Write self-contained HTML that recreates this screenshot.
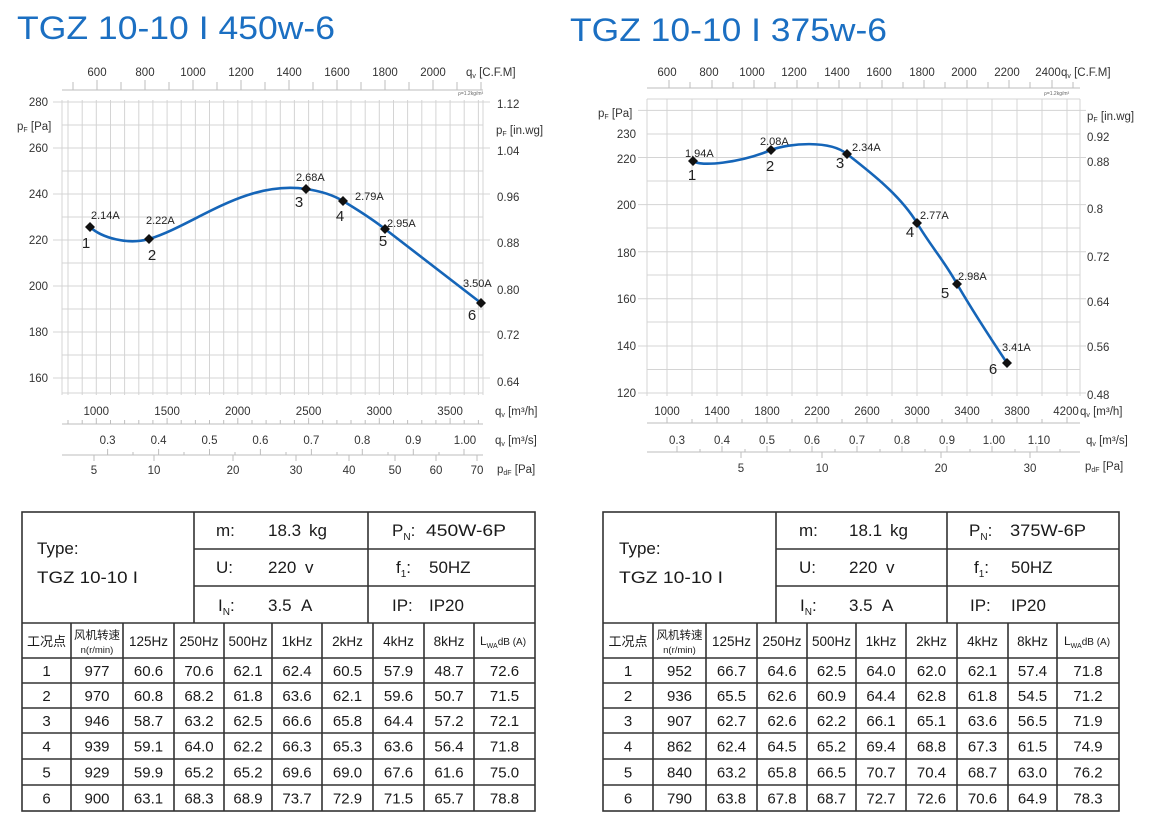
<!DOCTYPE html>
<html><head><meta charset="utf-8">
<style>
html,body{margin:0;padding:0;background:#fff;}
svg{display:block;}
text{font-family:"Liberation Sans","Noto Sans CJK SC",sans-serif;}
</style></head><body>
<svg width="1159" height="827" viewBox="0 0 1159 827" xmlns="http://www.w3.org/2000/svg">
<rect width="1159" height="827" fill="#fff"/>

<!-- ===================== LEFT CHART ===================== -->
<text x="17" y="39" font-size="32" fill="#1b6fc2" textLength="318" lengthAdjust="spacingAndGlyphs">TGZ 10-10 I 450w-6</text>

<!-- grid -->
<g stroke="#d4d4d4" stroke-width="1" fill="none">
<path d="M62 100V395M68 100V395M82.2 100V395M96.3 100V395M110.5 100V395M124.6 100V395M138.8 100V395M152.9 100V395M167.1 100V395M181.2 100V395M195.4 100V395M209.5 100V395M223.7 100V395M237.8 100V395M252 100V395M266.1 100V395M280.3 100V395M294.4 100V395M308.6 100V395M322.7 100V395M336.9 100V395M351 100V395M365.2 100V395M379.3 100V395M393.5 100V395M407.6 100V395M421.8 100V395M435.9 100V395M450.1 100V395M464.2 100V395M478.4 100V395M483 100V395"/>
<path d="M53 102H490M62 125H483M53 148H490M62 171H483M53 194H490M62 217H483M53 240H490M62 263H483M53 286H490M62 309H483M53 332H490M62 355H483M53 378H490M62 393H483"/>
</g>
<!-- top CFM axis -->
<g stroke="#bdbdbd" stroke-width="1" fill="none">
<path d="M62 90H483M73 82V90M97 80V90M121 82V90M145 80V90M169 82V90M193 80V90M217 82V90M241 80V90M265 82V90M289 80V90M313 82V90M337 80V90M361 82V90M385 80V90M409 82V90M433 80V90M457 82V90M481 82V90"/>
<path d="M62 424H483M62 455H483"/>
<path d="M68 420V424M82.2 420V424M96.3 418V424M110.5 420V424M124.6 420V424M138.8 420V424M152.9 420V424M167.1 418V424M181.2 420V424M195.4 420V424M209.5 420V424M223.7 420V424M237.8 418V424M252 420V424M266.1 420V424M280.3 420V424M294.4 420V424M308.6 418V424M322.7 420V424M336.9 420V424M351 420V424M365.2 420V424M379.3 418V424M393.5 420V424M407.6 420V424M421.8 420V424M435.9 420V424M450.1 418V424M464.2 420V424M478.4 420V424"/>
<path d="M107.6 449V455M133 452V455M158.6 449V455M184 452V455M209.5 449V455M235 452V455M260.4 449V455M286 452V455M311.4 449V455M337 452V455M362.3 449V455M388 452V455M413.3 449V455M439 452V455M464 449V455"/>
<path d="M94 455V461M154 455V461M233 455V461M296 455V461M349 455V461M395 455V461M436 455V461M477 455V461"/>
</g>
<g font-size="11.5" fill="#333" text-anchor="middle">
<text x="97" y="76">600</text><text x="145" y="76">800</text><text x="193" y="76">1000</text><text x="241" y="76">1200</text><text x="289" y="76">1400</text><text x="337" y="76">1600</text><text x="385" y="76">1800</text><text x="433" y="76">2000</text>
<text x="96.3" y="415">1000</text><text x="167.1" y="415">1500</text><text x="237.8" y="415">2000</text><text x="308.6" y="415">2500</text><text x="379.3" y="415">3000</text><text x="450.1" y="415">3500</text>
<text x="107.6" y="444">0.3</text><text x="158.6" y="444">0.4</text><text x="209.5" y="444">0.5</text><text x="260.4" y="444">0.6</text><text x="311.4" y="444">0.7</text><text x="362.3" y="444">0.8</text><text x="413.3" y="444">0.9</text><text x="465" y="444">1.00</text>
<text x="94" y="474">5</text><text x="154" y="474">10</text><text x="233" y="474">20</text><text x="296" y="474">30</text><text x="349" y="474">40</text><text x="395" y="474">50</text><text x="436" y="474">60</text><text x="477" y="474">70</text>
</g>
<g font-size="11.5" fill="#333" text-anchor="end">
<text x="48" y="106">280</text><text x="48" y="152">260</text><text x="48" y="198">240</text><text x="48" y="244">220</text><text x="48" y="290">200</text><text x="48" y="336">180</text><text x="48" y="382">160</text>
</g>
<g font-size="11.5" fill="#333">
<text x="497" y="108">1.12</text><text x="497" y="155">1.04</text><text x="497" y="201">0.96</text><text x="497" y="247">0.88</text><text x="497" y="294">0.80</text><text x="497" y="339">0.72</text><text x="497" y="386">0.64</text>
<text x="17" y="130">p<tspan font-size="7" dy="2">F</tspan><tspan dy="-2"> [Pa]</tspan></text>
<text x="496" y="134">p<tspan font-size="7" dy="2">F</tspan><tspan dy="-2"> [in.wg]</tspan></text>
<text x="466" y="76">q<tspan font-size="7" dy="2">v</tspan><tspan dy="-2"> [C.F.M]</tspan></text>
<text x="495" y="415">q<tspan font-size="7" dy="2">v</tspan><tspan dy="-2"> [m³/h]</tspan></text>
<text x="495" y="444">q<tspan font-size="7" dy="2">v</tspan><tspan dy="-2"> [m³/s]</tspan></text>
<text x="497" y="473">p<tspan font-size="7" dy="2">dF</tspan><tspan dy="-2"> [Pa]</tspan></text>
</g>
<text x="458" y="95" font-size="5" fill="#666">ρ=1.2kg/m³</text>

<!-- curve -->
<path d="M90,227 C102,238 128,245 149,239 C195,225 245,180 306,189 C320,191 333,195 343,201 C358,210 372,219 385,229 C420,256 455,283 481,303" fill="none" stroke="#1565b8" stroke-width="2.6"/>
<g fill="#111">
<polygon points="90,222 95,227 90,232 85,227"/>
<polygon points="149,234 154,239 149,244 144,239"/>
<polygon points="306,184 311,189 306,194 301,189"/>
<polygon points="343,196 348,201 343,206 338,201"/>
<polygon points="385,224 390,229 385,234 380,229"/>
<polygon points="481,298 486,303 481,308 476,303"/>
</g>
<g font-size="11" fill="#222">
<text x="91" y="219">2.14A</text><text x="146" y="224">2.22A</text><text x="296" y="181">2.68A</text><text x="355" y="200">2.79A</text><text x="387" y="227">2.95A</text><text x="463" y="287">3.50A</text>
</g>
<g font-size="15" fill="#222" text-anchor="middle">
<text x="86" y="248">1</text><text x="152" y="260">2</text><text x="299" y="207">3</text><text x="340" y="221">4</text><text x="383" y="246">5</text><text x="472" y="320">6</text>
</g>

<!-- ===================== RIGHT CHART ===================== -->
<text x="570" y="41" font-size="32" fill="#1b6fc2" textLength="317" lengthAdjust="spacingAndGlyphs">TGZ 10-10 I 375w-6</text>

<g stroke="#d4d4d4" stroke-width="1" fill="none">
<path d="M647 99V396M667 99V396M692 99V396M717 99V396M742 99V396M767 99V396M792 99V396M817 99V396M842 99V396M867 99V396M892 99V396M917 99V396M942 99V396M967 99V396M992 99V396M1017 99V396M1042 99V396M1067 99V396M1080 99V396"/>
<path d="M647 99H1080M638 110.4H1086M647 134H1080M638 157.5H1086M647 181H1080M638 204.6H1086M647 228H1080M638 251.7H1086M647 275H1080M638 298.8H1086M647 322H1080M638 346H1086M647 369.5H1080M638 393H1086"/>
</g>
<g stroke="#bdbdbd" stroke-width="1" fill="none">
<path d="M647 88H1080M669 80V88M690 82V88M712 80V88M733 82V88M754 80V88M775 82V88M797 80V88M818 82V88M839 80V88M860 82V88M882 80V88M903 82V88M924 80V88M945 82V88M967 80V88M988 82V88M1009 80V88M1030 82V88M1052 80V88M1073 82V88"/>
<path d="M647 423H1080M647 452H1080"/>
<path d="M667 417V423M692 419V423M717 417V423M742 419V423M767 417V423M792 419V423M817 417V423M842 419V423M867 417V423M892 419V423M917 417V423M942 419V423M967 417V423M992 419V423M1017 417V423M1042 419V423M1067 417V423"/>
<path d="M677 446V452M700 449V452M722 446V452M745 449V452M767 446V452M790 449V452M812 446V452M835 449V452M857 446V452M880 449V452M902 446V452M925 449V452M947 446V452M970 449V452M992 446V452M1015 449V452M1037 446V452M1060 449V452"/>
<path d="M741 452V458M822 452V458M941 452V458M1030 452V458"/>
</g>
<g font-size="11.5" fill="#333" text-anchor="middle">
<text x="667" y="76">600</text><text x="709" y="76">800</text><text x="752" y="76">1000</text><text x="794" y="76">1200</text><text x="837" y="76">1400</text><text x="879" y="76">1600</text><text x="922" y="76">1800</text><text x="964" y="76">2000</text><text x="1007" y="76">2200</text><text x="1048" y="76">2400</text>
<text x="667" y="415">1000</text><text x="717" y="415">1400</text><text x="767" y="415">1800</text><text x="817" y="415">2200</text><text x="867" y="415">2600</text><text x="917" y="415">3000</text><text x="967" y="415">3400</text><text x="1017" y="415">3800</text><text x="1066" y="415">4200</text>
<text x="677" y="444">0.3</text><text x="722" y="444">0.4</text><text x="767" y="444">0.5</text><text x="812" y="444">0.6</text><text x="857" y="444">0.7</text><text x="902" y="444">0.8</text><text x="947" y="444">0.9</text><text x="994" y="444">1.00</text><text x="1039" y="444">1.10</text>
<text x="741" y="472">5</text><text x="822" y="472">10</text><text x="941" y="472">20</text><text x="1030" y="472">30</text>
</g>
<g font-size="11.5" fill="#333" text-anchor="end">
<text x="636" y="138">230</text><text x="636" y="163">220</text><text x="636" y="209">200</text><text x="636" y="257">180</text><text x="636" y="303">160</text><text x="636" y="350">140</text><text x="636" y="397">120</text>
</g>
<g font-size="11.5" fill="#333">
<text x="1087" y="141">0.92</text><text x="1087" y="166">0.88</text><text x="1087" y="213">0.8</text><text x="1087" y="261">0.72</text><text x="1087" y="306">0.64</text><text x="1087" y="351">0.56</text><text x="1087" y="399">0.48</text>
<text x="598" y="117">p<tspan font-size="7" dy="2">F</tspan><tspan dy="-2"> [Pa]</tspan></text>
<text x="1087" y="120">p<tspan font-size="7" dy="2">F</tspan><tspan dy="-2"> [in.wg]</tspan></text>
<text x="1061" y="76">q<tspan font-size="7" dy="2">v</tspan><tspan dy="-2"> [C.F.M]</tspan></text>
<text x="1080" y="415">q<tspan font-size="7" dy="2">v</tspan><tspan dy="-2"> [m³/h]</tspan></text>
<text x="1086" y="444">q<tspan font-size="7" dy="2">v</tspan><tspan dy="-2"> [m³/s]</tspan></text>
<text x="1085" y="470">p<tspan font-size="7" dy="2">dF</tspan><tspan dy="-2"> [Pa]</tspan></text>
</g>
<text x="1044" y="95" font-size="5" fill="#666">ρ=1.2kg/m³</text>

<path d="M693,161 C700,167 740,163 771,150 C790,143 830,140 847,154 C870,172 900,195 917,223 C930,245 945,262 957,284 C975,315 995,345 1007,363" fill="none" stroke="#1565b8" stroke-width="2.6"/>
<g fill="#111">
<polygon points="693,156 698,161 693,166 688,161"/>
<polygon points="771,145 776,150 771,155 766,150"/>
<polygon points="847,149 852,154 847,159 842,154"/>
<polygon points="917,218 922,223 917,228 912,223"/>
<polygon points="957,279 962,284 957,289 952,284"/>
<polygon points="1007,358 1012,363 1007,368 1002,363"/>
</g>
<g font-size="11" fill="#222">
<text x="685" y="157">1.94A</text><text x="760" y="145">2.08A</text><text x="852" y="151">2.34A</text><text x="920" y="219">2.77A</text><text x="958" y="280">2.98A</text><text x="1002" y="351">3.41A</text>
</g>
<g font-size="15" fill="#222" text-anchor="middle">
<text x="692" y="180">1</text><text x="770" y="171">2</text><text x="840" y="168">3</text><text x="910" y="237">4</text><text x="945" y="298">5</text><text x="993" y="374">6</text>
</g>

<!-- ===================== LEFT TABLE ===================== -->
<g stroke="#333" stroke-width="1.6" fill="none">
<rect x="22" y="512" width="513" height="299"/>
<path d="M194 512V623M368 512V623M194 549H535M194 586H535M22 623H535M22 658H535M22 683H535M22 708H535M22 733H535M22 759H535M22 785H535M71 623V811M123 623V811M174 623V811M224 623V811M272 623V811M322 623V811M373 623V811M424 623V811M474 623V811"/>
</g>
<g font-size="17" fill="#1a1a1a">
<text x="37" y="554">Type:</text>
<text x="37" y="583" textLength="101" lengthAdjust="spacingAndGlyphs">TGZ 10-10 I</text>
<text x="216" y="536">m:</text><text x="268" y="536">18.3</text><text x="309" y="536">kg</text>
<text x="392" y="536">P<tspan font-size="10" dy="4">N</tspan><tspan dy="-4">:</tspan></text><text x="426" y="536" textLength="80" lengthAdjust="spacingAndGlyphs">450W-6P</text>
<text x="216" y="573">U:</text><text x="268" y="573">220</text><text x="305" y="573">v</text>
<text x="396" y="573">f<tspan font-size="10" dy="4">1</tspan><tspan dy="-4">:</tspan></text><text x="429" y="573">50HZ</text>
<text x="218" y="611">I<tspan font-size="10" dy="4">N</tspan><tspan dy="-4">:</tspan></text><text x="268" y="611">3.5</text><text x="301" y="611">A</text>
<text x="392" y="611">IP:</text><text x="429" y="611">IP20</text>
</g>
<g fill="#1a1a1a" text-anchor="middle">
<text x="46.5" y="646" font-size="13">工况点</text>
<text x="97" y="639" font-size="11.5">风机转速</text>
<text x="97" y="653" font-size="9.5">n(r/min)</text>
<g font-size="13.5"><text x="148.5" y="646">125Hz</text><text x="199" y="646">250Hz</text><text x="248" y="646">500Hz</text><text x="297" y="646">1kHz</text><text x="347.5" y="646">2kHz</text><text x="398.5" y="646">4kHz</text><text x="449" y="646">8kHz</text></g>
<text x="503" y="645" font-size="12">L<tspan font-size="7" dy="3">WA</tspan><tspan dy="-3" font-size="10">dB (A)</tspan></text>
</g>
<g font-size="15" fill="#1a1a1a" text-anchor="middle">
<text x="46.5" y="676">1</text><text x="97" y="676">977</text><text x="148.5" y="676">60.6</text><text x="199" y="676">70.6</text><text x="248" y="676">62.1</text><text x="297" y="676">62.4</text><text x="347.5" y="676">60.5</text><text x="398.5" y="676">57.9</text><text x="449" y="676">48.7</text><text x="504.5" y="676">72.6</text>
<text x="46.5" y="701">2</text><text x="97" y="701">970</text><text x="148.5" y="701">60.8</text><text x="199" y="701">68.2</text><text x="248" y="701">61.8</text><text x="297" y="701">63.6</text><text x="347.5" y="701">62.1</text><text x="398.5" y="701">59.6</text><text x="449" y="701">50.7</text><text x="504.5" y="701">71.5</text>
<text x="46.5" y="726">3</text><text x="97" y="726">946</text><text x="148.5" y="726">58.7</text><text x="199" y="726">63.2</text><text x="248" y="726">62.5</text><text x="297" y="726">66.6</text><text x="347.5" y="726">65.8</text><text x="398.5" y="726">64.4</text><text x="449" y="726">57.2</text><text x="504.5" y="726">72.1</text>
<text x="46.5" y="751.5">4</text><text x="97" y="751.5">939</text><text x="148.5" y="751.5">59.1</text><text x="199" y="751.5">64.0</text><text x="248" y="751.5">62.2</text><text x="297" y="751.5">66.3</text><text x="347.5" y="751.5">65.3</text><text x="398.5" y="751.5">63.6</text><text x="449" y="751.5">56.4</text><text x="504.5" y="751.5">71.8</text>
<text x="46.5" y="777.5">5</text><text x="97" y="777.5">929</text><text x="148.5" y="777.5">59.9</text><text x="199" y="777.5">65.2</text><text x="248" y="777.5">65.2</text><text x="297" y="777.5">69.6</text><text x="347.5" y="777.5">69.0</text><text x="398.5" y="777.5">67.6</text><text x="449" y="777.5">61.6</text><text x="504.5" y="777.5">75.0</text>
<text x="46.5" y="803.5">6</text><text x="97" y="803.5">900</text><text x="148.5" y="803.5">63.1</text><text x="199" y="803.5">68.3</text><text x="248" y="803.5">68.9</text><text x="297" y="803.5">73.7</text><text x="347.5" y="803.5">72.9</text><text x="398.5" y="803.5">71.5</text><text x="449" y="803.5">65.7</text><text x="504.5" y="803.5">78.8</text>
</g>

<!-- ===================== RIGHT TABLE ===================== -->
<g stroke="#333" stroke-width="1.6" fill="none">
<rect x="603" y="512" width="516" height="299"/>
<path d="M776 512V623M947 512V623M776 549H1119M776 586H1119M603 623H1119M603 658H1119M603 683H1119M603 708H1119M603 733H1119M603 759H1119M603 785H1119M653 623V811M706 623V811M757 623V811M807 623V811M856 623V811M906 623V811M957 623V811M1008 623V811M1057 623V811"/>
</g>
<g font-size="17" fill="#1a1a1a">
<text x="619" y="554">Type:</text>
<text x="619" y="583" textLength="104" lengthAdjust="spacingAndGlyphs">TGZ 10-10 I</text>
<text x="799" y="536">m:</text><text x="849" y="536">18.1</text><text x="890" y="536">kg</text>
<text x="969" y="536">P<tspan font-size="10" dy="4">N</tspan><tspan dy="-4">:</tspan></text><text x="1010" y="536" textLength="76" lengthAdjust="spacingAndGlyphs">375W-6P</text>
<text x="799" y="573">U:</text><text x="849" y="573">220</text><text x="886" y="573">v</text>
<text x="974" y="573">f<tspan font-size="10" dy="4">1</tspan><tspan dy="-4">:</tspan></text><text x="1011" y="573">50HZ</text>
<text x="800" y="611">I<tspan font-size="10" dy="4">N</tspan><tspan dy="-4">:</tspan></text><text x="849" y="611">3.5</text><text x="882" y="611">A</text>
<text x="970" y="611">IP:</text><text x="1011" y="611">IP20</text>
</g>
<g fill="#1a1a1a" text-anchor="middle">
<text x="628" y="646" font-size="13">工况点</text>
<text x="679.5" y="639" font-size="11.5">风机转速</text>
<text x="679.5" y="653" font-size="9.5">n(r/min)</text>
<g font-size="13.5"><text x="731.5" y="646">125Hz</text><text x="782" y="646">250Hz</text><text x="831.5" y="646">500Hz</text><text x="881" y="646">1kHz</text><text x="931.5" y="646">2kHz</text><text x="982.5" y="646">4kHz</text><text x="1032.5" y="646">8kHz</text></g>
<text x="1087" y="645" font-size="12">L<tspan font-size="7" dy="3">WA</tspan><tspan dy="-3" font-size="10">dB (A)</tspan></text>
</g>
<g font-size="15" fill="#1a1a1a" text-anchor="middle">
<text x="628" y="676">1</text><text x="679.5" y="676">952</text><text x="731.5" y="676">66.7</text><text x="782" y="676">64.6</text><text x="831.5" y="676">62.5</text><text x="881" y="676">64.0</text><text x="931.5" y="676">62.0</text><text x="982.5" y="676">62.1</text><text x="1032.5" y="676">57.4</text><text x="1088" y="676">71.8</text>
<text x="628" y="701">2</text><text x="679.5" y="701">936</text><text x="731.5" y="701">65.5</text><text x="782" y="701">62.6</text><text x="831.5" y="701">60.9</text><text x="881" y="701">64.4</text><text x="931.5" y="701">62.8</text><text x="982.5" y="701">61.8</text><text x="1032.5" y="701">54.5</text><text x="1088" y="701">71.2</text>
<text x="628" y="726">3</text><text x="679.5" y="726">907</text><text x="731.5" y="726">62.7</text><text x="782" y="726">62.6</text><text x="831.5" y="726">62.2</text><text x="881" y="726">66.1</text><text x="931.5" y="726">65.1</text><text x="982.5" y="726">63.6</text><text x="1032.5" y="726">56.5</text><text x="1088" y="726">71.9</text>
<text x="628" y="751.5">4</text><text x="679.5" y="751.5">862</text><text x="731.5" y="751.5">62.4</text><text x="782" y="751.5">64.5</text><text x="831.5" y="751.5">65.2</text><text x="881" y="751.5">69.4</text><text x="931.5" y="751.5">68.8</text><text x="982.5" y="751.5">67.3</text><text x="1032.5" y="751.5">61.5</text><text x="1088" y="751.5">74.9</text>
<text x="628" y="777.5">5</text><text x="679.5" y="777.5">840</text><text x="731.5" y="777.5">63.2</text><text x="782" y="777.5">65.8</text><text x="831.5" y="777.5">66.5</text><text x="881" y="777.5">70.7</text><text x="931.5" y="777.5">70.4</text><text x="982.5" y="777.5">68.7</text><text x="1032.5" y="777.5">63.0</text><text x="1088" y="777.5">76.2</text>
<text x="628" y="803.5">6</text><text x="679.5" y="803.5">790</text><text x="731.5" y="803.5">63.8</text><text x="782" y="803.5">67.8</text><text x="831.5" y="803.5">68.7</text><text x="881" y="803.5">72.7</text><text x="931.5" y="803.5">72.6</text><text x="982.5" y="803.5">70.6</text><text x="1032.5" y="803.5">64.9</text><text x="1088" y="803.5">78.3</text>
</g>
</svg>
</body></html>
